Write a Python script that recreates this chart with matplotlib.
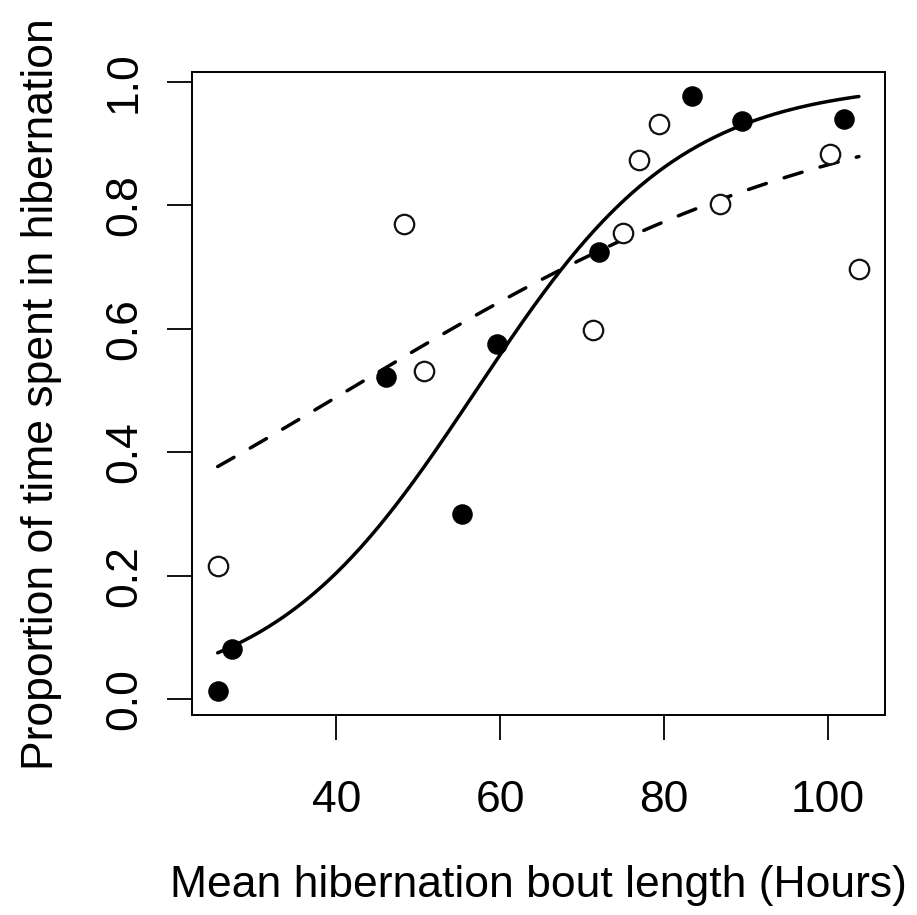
import numpy as np
import matplotlib
matplotlib.use("Agg")
import matplotlib.pyplot as plt

# Mean hibernation bout length (hours) and proportion of time in hibernation
filled_x = [25.6, 27.3, 46.1, 55.3, 59.6, 72.1, 83.4, 89.5, 102.0]
filled_y = [0.013, 0.081, 0.522, 0.300, 0.575, 0.725, 0.977, 0.937, 0.940]

open_x = [25.5, 48.3, 50.7, 71.3, 75.0, 77.0, 79.4, 86.9, 100.3, 103.8]
open_y = [0.215, 0.770, 0.531, 0.598, 0.756, 0.873, 0.931, 0.802, 0.883, 0.697]

# Logistic fits (intercept, slope) for each group
solid_fit = (-4.541, 0.0796)
dashed_fit = (-1.313, 0.03176)

x_ticks = [40, 60, 80, 100]
y_ticks = [0.0, 0.2, 0.4, 0.6, 0.8, 1.0]
y_tick_labels = ["0.0", "0.2", "0.4", "0.6", "0.8", "1.0"]

x_label = "Mean hibernation bout length (Hours)"
y_label = "Proportion of time spent in hibernation"

plt.rcParams["font.family"] = ["Liberation Sans", "DejaVu Sans"]
plt.rcParams["lines.scale_dashes"] = False

fig = plt.figure(figsize=(9.17, 9.15), dpi=100)
ax = fig.add_axes([0.2094, 0.2186, 0.9646 - 0.2094, 0.921 - 0.2186])

all_x = np.array(filled_x + open_x)
all_y = np.array(filled_y + open_y)


def logistic(b, x):
    return 1.0 / (1.0 + np.exp(-(b[0] + b[1] * x)))


grid = np.linspace(all_x.min(), all_x.max(), 300)
ax.plot(grid, logistic(solid_fit, grid), color="black", lw=2.5,
        solid_capstyle="round")
ax.plot(grid, logistic(dashed_fit, grid), color="black", lw=2.5,
        dashes=(13.5, 13.5), dash_capstyle="round")

ax.plot(open_x, open_y, linestyle="none", marker="o", ms=14,
        mfc="white", mec="#111111", mew=1.6)
ax.plot(filled_x, filled_y, linestyle="none", marker="o", ms=13.8,
        mfc="black", mec="black", mew=1.0)

# R-style 4% padding around the data range
xr = all_x.max() - all_x.min()
yr = all_y.max() - all_y.min()
ax.set_xlim(all_x.min() - 0.04 * xr, all_x.max() + 0.04 * xr)
ax.set_ylim(all_y.min() - 0.04 * yr, all_y.max() + 0.04 * yr)

ax.set_xticks(x_ticks)
ax.set_xticklabels([str(t) for t in x_ticks])
ax.set_yticks(y_ticks)
ax.set_yticklabels(y_tick_labels, rotation=90, va="center")

ax.tick_params(axis="both", direction="out", length=18, width=1.3,
               labelsize=32, color="black")
ax.tick_params(axis="x", pad=29)
ax.tick_params(axis="y", pad=16)

for s in ax.spines.values():
    s.set_linewidth(1.4)
    s.set_color("black")

ax.set_xlabel(x_label, fontsize=32, va="center")
ax.xaxis.set_label_coords(0.5, -0.266)
ax.set_ylabel(y_label, fontsize=32, va="center")
ax.yaxis.set_label_coords(-0.218, 0.5)

fig.savefig("out.png", dpi=100, facecolor="white")
